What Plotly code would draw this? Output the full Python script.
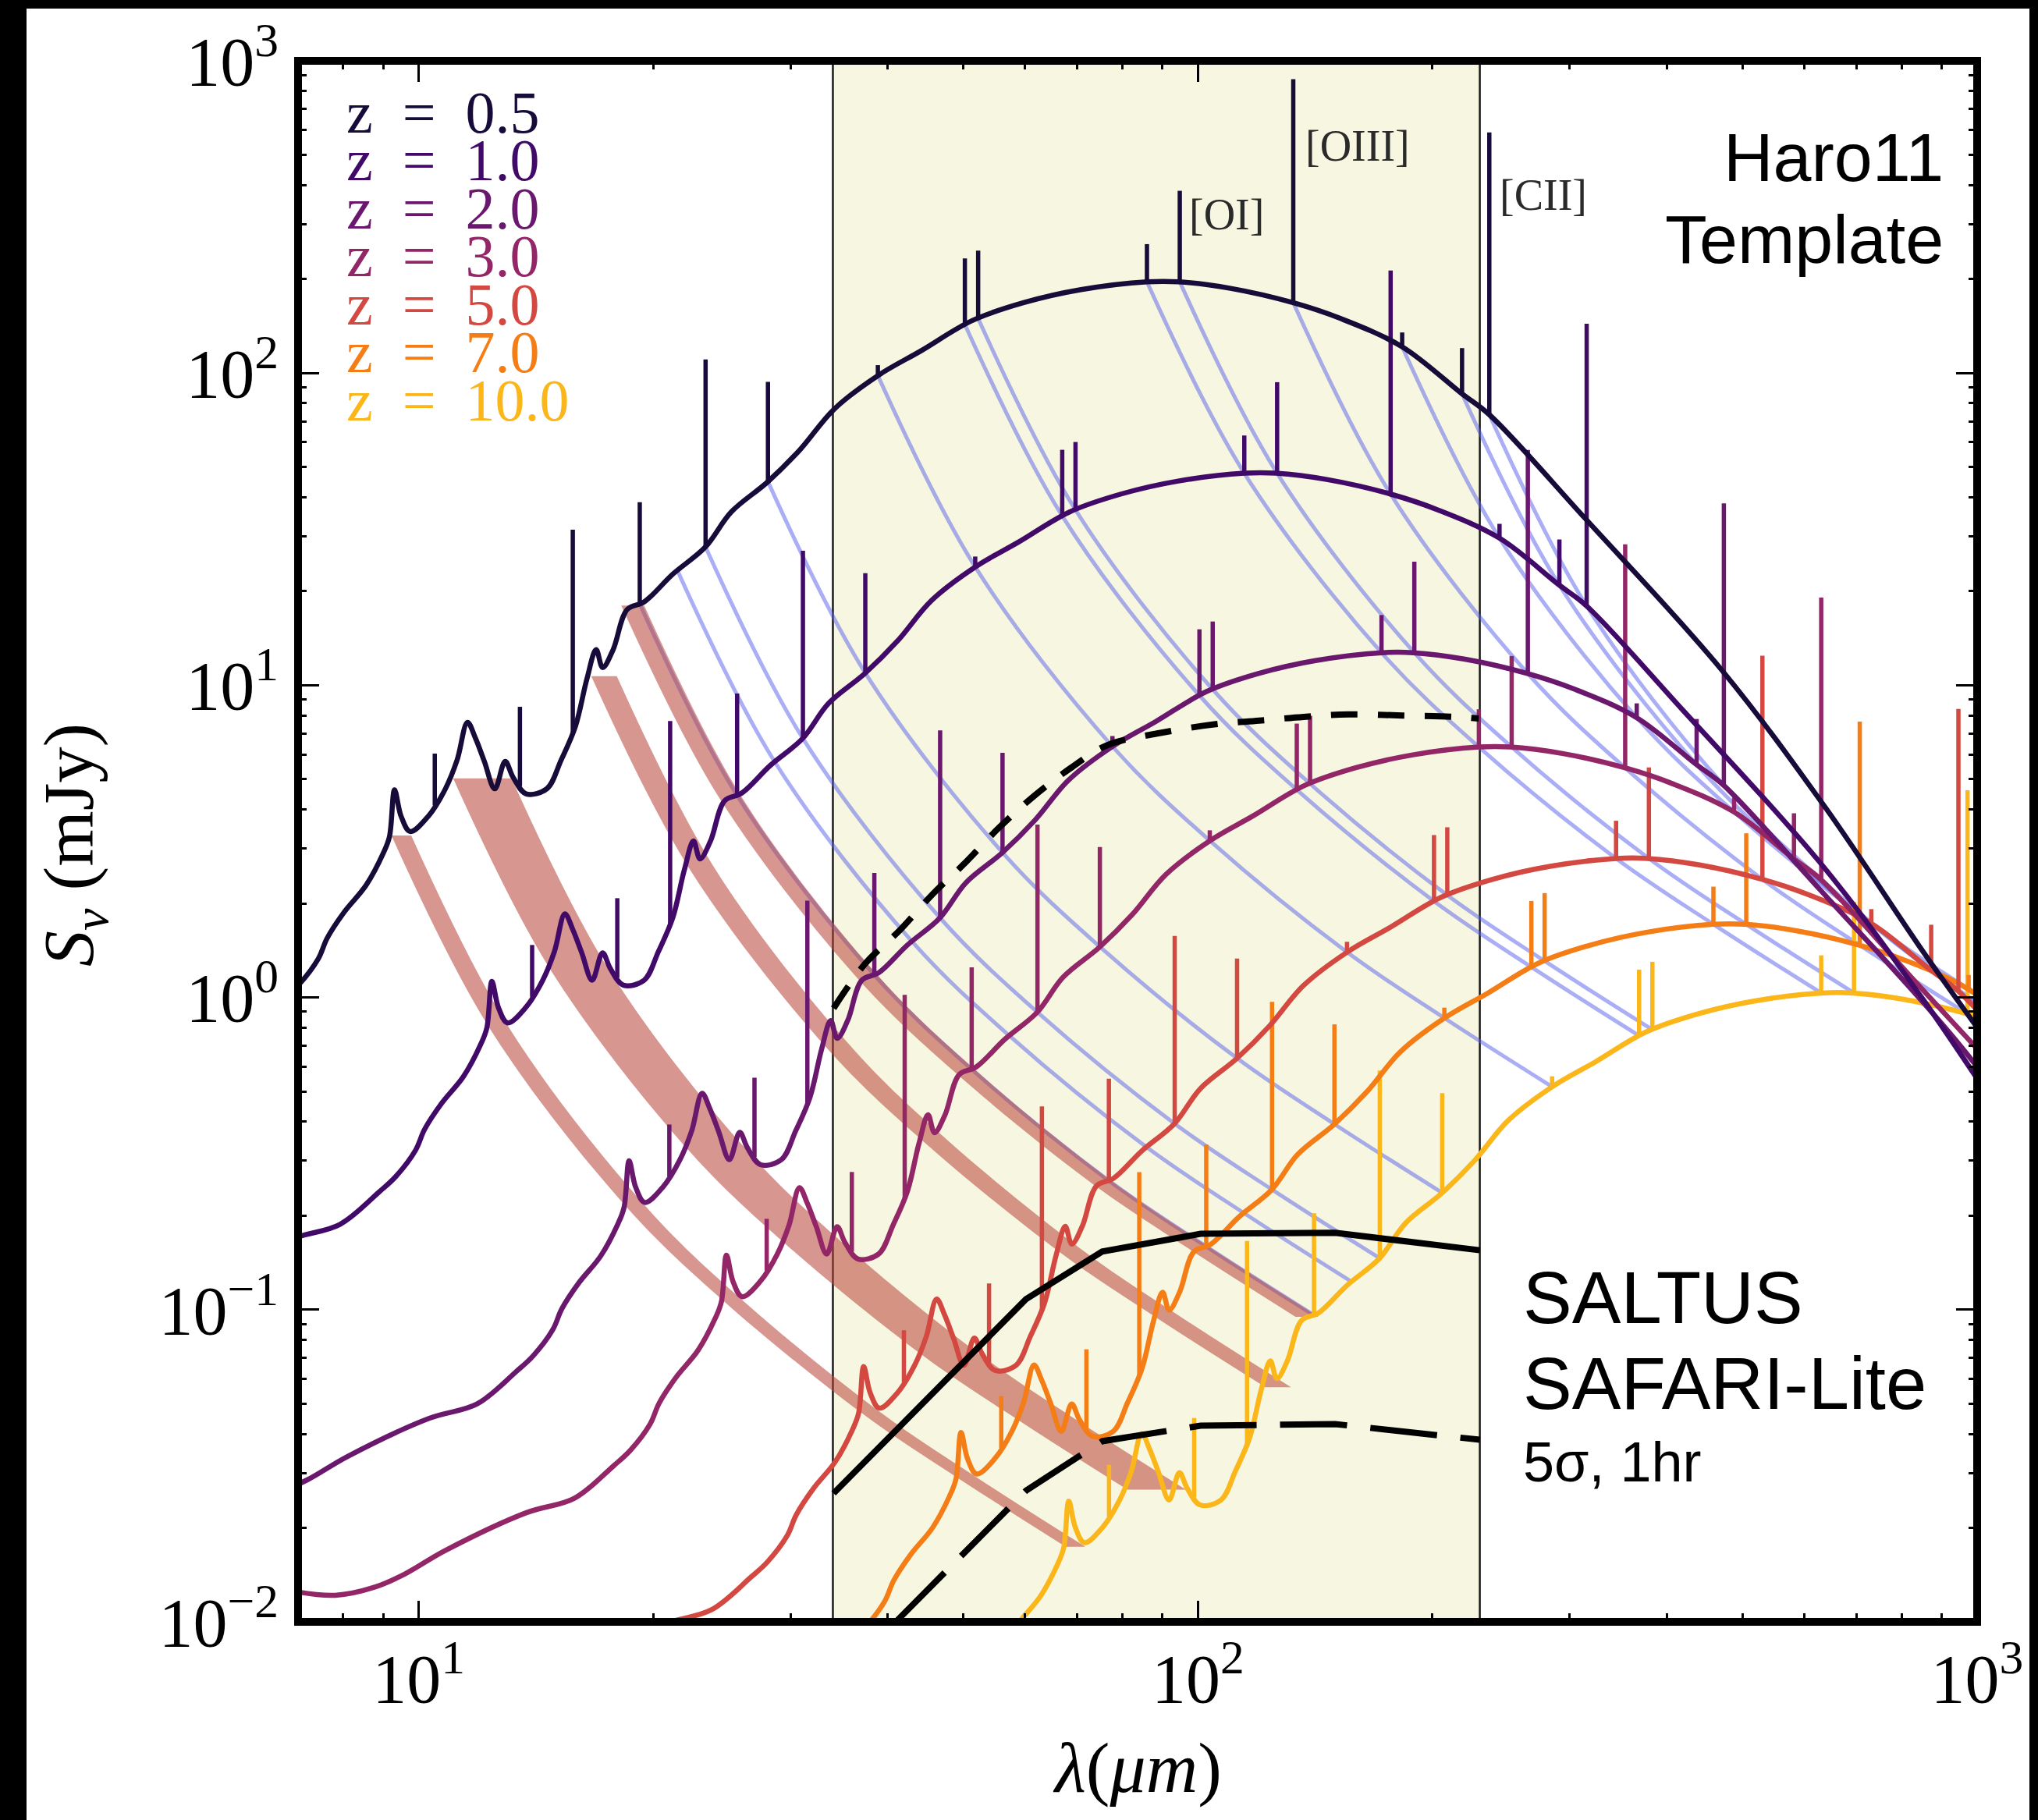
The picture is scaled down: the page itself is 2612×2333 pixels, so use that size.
import plotly.graph_objects as go

# ---------------- figure geometry (pixels) ----------------
W, H = 2612, 2333
L, R, T, B = 382, 2534, 78, 2079


def px(x):
    return (x - L) / (R - L)


def py(y):
    return (B - y) / (B - T)


# ---------------- data ----------------
redshifts = [0.5, 1.0, 2.0, 3.0, 5.0, 7.0, 10.0]
z_labels = ["z = 0.5", "z = 1.0", "z = 2.0", "z = 3.0", "z = 5.0", "z = 7.0", "z = 10.0"]
z_colors = ["#160b39", "#420a68", "#6a176e", "#932667", "#d44842", "#f57d15", "#fbb61a"]
# log10 flux offset of each redshifted spectrum relative to the z = 0.5 one
z_log_offset = [0.0, -0.613, -1.188, -1.490, -1.847, -2.058, -2.278]

# Haro11 continuum as seen at z = 0.5 (observed wavelength in micron, flux in mJy)
cont_wave05 = [2.61, 2.93, 3.30, 3.60, 4.05, 5.16, 5.94, 6.67, 7.01, 7.43, 7.63,
               8.02, 8.56, 9.00, 9.17, 9.31, 9.49, 9.75, 10.29, 10.82, 11.20, 11.55,
               11.82, 12.14, 12.52, 12.91, 13.21, 13.73, 14.60, 15.23, 15.89, 16.44,
               16.89, 17.22, 17.76, 18.52, 19.47, 21.19, 23.32, 25.18, 28.04, 30.87,
               34.12, 38.88, 44.13, 51.27, 59.76, 70.78, 86.07, 94.4, 110.1, 132.4,
               152.0, 182.8, 218.1, 236.4, 314.1, 470.0, 639.4, 852.7, 998.0]
cont_flux05 = [0.386, 0.376, 0.400, 0.440, 0.522, 0.692, 0.769, 0.977, 1.096, 1.33,
               1.55, 1.875, 2.29, 2.89, 3.27, 4.62, 3.81, 3.40, 3.81, 4.66, 5.76, 7.60,
               6.78, 5.70, 4.66, 5.70, 5.08, 4.49, 4.66, 5.76, 7.39, 10.5, 13.0, 11.4,
               13.0, 17.5, 18.5, 22.7, 27.7, 35.9, 44.8, 56.9, 76.6, 98.3, 117.9, 147.1,
               168.1, 185.0, 196.0, 196.0, 186.8, 168.1, 149.9, 121.4, 85.9, 73.7, 34.2,
               11.2, 4.04, 1.40, 0.807]

# emission lines: rest wavelength (micron), base and peak flux on the z = 0.5 spectrum (mJy)
line_names = ["[ArII]", "[ArIII]", "[SIV]", "[NeII]", "[NeV]", "[NeIII]", "[SIII]", "[OIV]",
              "[SIII]", "[SiII]", "[NIII]", "[OI]", "[OIII]", "[NII]", "[OI]", "[CII]"]
line_rest = [6.99, 8.99, 10.51, 12.81, 14.32, 15.56, 18.71, 25.89, 33.48, 34.82, 57.34,
             63.18, 88.36, 121.9, 145.5, 157.7]
line_base05 = [4.12, 4.75, 7.0, 18.2, 23.3, 27.7, 44.9, 98.2, 143.0, 149.5, 196.0, 196.0,
               168.0, 121.4, 85.8, 73.6]
line_peak05 = [6.04, 8.53, 31.5, 38.6, 23.3, 110.6, 93.7, 106.0, 232.9, 246.7, 258.8,
               383.5, 874.0, 134.9, 120.2, 590.0]
line_track = [False, False, False, True, True, True, True, True, True, True, True, True,
              True, True, True, True]

# PAH feature bands (rest wavelength range, flux at z = 0.5)
band_rest_lo = [6.15, 7.38, 11.1, 12.13]
band_rest_hi = [6.52, 8.77, 11.97, 12.98]
band_flux05 = [3.30, 5.03, 10.7, 18.0]

# SAFARI-Lite coverage and sensitivities
safari_range = [34.0, 230.0]
sens_line_wave = [34.07, 37.36, 41.52, 45.58, 49.95, 55.56, 61.78, 68.69, 76.39, 89.51,
                  104.9, 119.8, 136.7, 156.1, 183.0, 214.5, 229.3]
sens_line_flux = [0.923, 1.278, 1.651, 2.133, 2.658, 3.498, 4.444, 5.435, 6.418, 7.034,
                  7.493, 7.704, 7.922, 8.068, 8.0, 7.92, 7.83]
sens_cont_wave = [34.07, 60.15, 75.35, 100.8, 150.0, 230.0]
sens_cont_flux = [0.0258, 0.108, 0.1535, 0.175, 0.1762, 0.155]
sens_deep_flux = [0.0063, 0.0263, 0.0379, 0.0425, 0.0430, 0.0383]

# ---------------- build figure ----------------
fig = go.Figure()

# SAFARI-Lite wavelength band
fig.add_trace(go.Scatter(x=[safari_range[0], safari_range[1], safari_range[1], safari_range[0]],
                         y=[1e-3, 1e-3, 1e4, 1e4], fill="toself", fillcolor="#f7f7e1",
                         line=dict(width=0), mode="lines", hoverinfo="skip"))
for xb in safari_range:
    fig.add_trace(go.Scatter(x=[xb, xb], y=[1e-3, 1e4], mode="lines",
                             line=dict(color="#1a1a1a", width=2.5), hoverinfo="skip"))

# emission-line tracks with redshift (blue)
for lr, b, tr in zip(line_rest, line_base05, line_track):
    if not tr:
        continue
    xs = [lr * (1 + z) for z in redshifts]
    ys = [b * 10 ** o for o in z_log_offset]
    fig.add_trace(go.Scatter(x=xs, y=ys, mode="lines", line_shape="spline",
                             line=dict(color="rgba(85,95,235,0.5)", width=5),
                             hoverinfo="skip"))

# PAH feature tracks (red bands)
for lo, hi, f in zip(band_rest_lo, band_rest_hi, band_flux05):
    ys = [f * 10 ** o for o in z_log_offset]
    fig.add_trace(go.Scatter(x=[lo * (1 + z) for z in redshifts], y=ys, mode="lines",
                             line_shape="spline", line=dict(width=0), hoverinfo="skip"))
    fig.add_trace(go.Scatter(x=[hi * (1 + z) for z in redshifts], y=ys, mode="lines",
                             line_shape="spline", line=dict(width=0), fill="tonexty",
                             fillcolor="rgba(185,70,60,0.57)", hoverinfo="skip"))

# redshifted spectra: smooth continuum + emission-line spikes
for z, off, col in reversed(list(zip(redshifts, z_log_offset, z_colors))):
    s = (1 + z) / 1.5
    fac = 10 ** off
    fig.add_trace(go.Scatter(x=[w * s for w in cont_wave05],
                             y=[c * fac for c in cont_flux05], mode="lines",
                             line_shape="spline", line=dict(color=col, width=6.5),
                             hoverinfo="skip"))
    sx, sy = [], []
    for lr, b, p in zip(line_rest, line_base05, line_peak05):
        if p > b:
            sx += [lr * (1 + z), lr * (1 + z), None]
            sy += [b * fac, p * fac, None]
    fig.add_trace(go.Scatter(x=sx, y=sy, mode="lines", connectgaps=False,
                             line=dict(color=col, width=5.5), hoverinfo="skip"))

# SAFARI-Lite sensitivity curves
fig.add_trace(go.Scatter(x=sens_line_wave, y=sens_line_flux, mode="lines",
                         line_shape="spline",
                         line=dict(color="black", width=8, dash="34px,26px"), hoverinfo="skip"))
fig.add_trace(go.Scatter(x=sens_cont_wave, y=sens_cont_flux, mode="lines",
                         line=dict(color="black", width=8), hoverinfo="skip"))
fig.add_trace(go.Scatter(x=sens_cont_wave, y=sens_deep_flux, mode="lines",
                         line=dict(color="black", width=8, dash="86px,30px"), hoverinfo="skip"))

# ---------------- axes ----------------
serif = "Liberation Serif"
sans = "Liberation Sans"


def minor_vals(lo, hi):
    out = []
    for d in range(lo, hi):
        for m in range(2, 10):
            out.append(m * 10 ** d)
    return out


fig.update_xaxes(type="log", range=[0.8451, 3.0], showgrid=False, zeroline=False,
                 showline=False, ticks="inside", ticklen=27, tickwidth=2.5,
                 tickcolor="black", mirror="ticks",
                 tickvals=[10, 100, 1000],
                 ticktext=["10<sup>1</sup>", "10<sup>2</sup>", "10<sup>3</sup>"],
                 tickfont=dict(family=serif, size=88, color="black"),
                 ticklabelstandoff=14,
                 minor=dict(tickmode="array", tickvals=minor_vals(0, 3), ticks="inside",
                            ticklen=11, tickwidth=2.5, tickcolor="black", showgrid=False))
fig.update_yaxes(type="log", range=[-2, 3], showgrid=False, zeroline=False,
                 showline=False, ticks="inside", ticklen=27, tickwidth=2.5,
                 tickcolor="black", mirror="ticks",
                 tickvals=[0.01, 0.1, 1, 10, 100, 1000],
                 ticktext=["10<sup>\u22122</sup>", "10<sup>\u22121</sup>", "10<sup>0</sup>",
                           "10<sup>1</sup>", "10<sup>2</sup>", "10<sup>3</sup>"],
                 tickfont=dict(family=serif, size=88, color="black"),
                 ticklabelstandoff=24,
                 minor=dict(tickmode="array", tickvals=minor_vals(-2, 3), ticks="inside",
                            ticklen=11, tickwidth=2.5, tickcolor="black", showgrid=False))

# ---------------- decorations ----------------
shapes = [
    dict(type="rect", xref="paper", yref="paper", x0=0, x1=1, y0=0, y1=1,
         line=dict(color="black", width=10), layer="above"),
    # black outer image frame strips
    dict(type="rect", xref="paper", yref="paper", x0=px(0), x1=px(34), y0=py(H), y1=py(0),
         fillcolor="black", line=dict(width=0)),
    dict(type="rect", xref="paper", yref="paper", x0=px(0), x1=px(W), y0=py(11), y1=py(0),
         fillcolor="black", line=dict(width=0)),
    dict(type="rect", xref="paper", yref="paper", x0=px(2601), x1=px(W), y0=py(H), y1=py(0),
         fillcolor="black", line=dict(width=0)),
]

ann = []
leg_base = 144
for i, (lab, col) in enumerate(zip(z_labels, z_colors)):
    ann.append(dict(x=px(442), y=py(leg_base + 61.5 * i), xref="paper", yref="paper",
                    text=lab.replace(" ", "\u00a0\u00a0"), showarrow=False,
                    xanchor="left", yanchor="middle",
                    font=dict(family=serif, size=76, color=col)))

for txt, cx, cy in [("[OI]", 1572, 275), ("[OIII]", 1740, 187), ("[CII]", 1978, 250)]:
    ann.append(dict(x=px(cx), y=py(cy), xref="paper", yref="paper", text=txt,
                    showarrow=False, xanchor="center", yanchor="middle",
                    font=dict(family=serif, size=56, color="#2a2a2a")))

ann.append(dict(x=px(2493), y=py(201), xref="paper", yref="paper", text="Haro11",
                showarrow=False, xanchor="right", yanchor="middle",
                font=dict(family=sans, size=88, color="black")))
ann.append(dict(x=px(2493), y=py(307), xref="paper", yref="paper", text="Template",
                showarrow=False, xanchor="right", yanchor="middle",
                font=dict(family=sans, size=88, color="black")))
ann.append(dict(x=px(1950), y=py(1663), xref="paper", yref="paper", text="SALTUS",
                showarrow=False, xanchor="left", yanchor="middle",
                font=dict(family=sans, size=94, color="black")))
ann.append(dict(x=px(1950), y=py(1773), xref="paper", yref="paper", text="SAFARI-Lite",
                showarrow=False, xanchor="left", yanchor="middle",
                font=dict(family=sans, size=94, color="black")))
ann.append(dict(x=px(1950), y=py(1874), xref="paper", yref="paper", text="5\u03c3, 1hr",
                showarrow=False, xanchor="left", yanchor="middle",
                font=dict(family=sans, size=72, color="black")))

# axis titles
ann.append(dict(x=px(1457), y=py(2266), xref="paper", yref="paper",
                text="<i>\u03bb</i>(<i>\u03bcm</i>)", showarrow=False,
                xanchor="center", yanchor="middle",
                font=dict(family=serif, size=92, color="black")))
ann.append(dict(x=px(94), y=py(1083), xref="paper", yref="paper",
                text="<i>S</i><sub><i>\u03bd</i></sub>\u00a0(mJy)", showarrow=False,
                textangle=-90, xanchor="center", yanchor="middle",
                font=dict(family=serif, size=92, color="black")))

fig.update_layout(width=W, height=H, autosize=False,
                  margin=dict(l=L, r=W - R, t=T, b=H - B, pad=0),
                  paper_bgcolor="white", plot_bgcolor="white", showlegend=False,
                  shapes=shapes, annotations=ann)

fig.write_html("out.html")
